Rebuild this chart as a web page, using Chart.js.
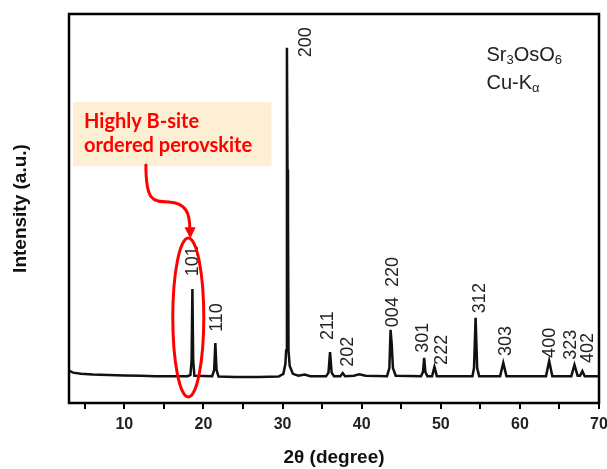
<!DOCTYPE html>
<html>
<head>
<meta charset="utf-8">
<script src="https://cdn.jsdelivr.net/npm/chart.js@4.4.1/dist/chart.umd.min.js"></script>
<style>
  html, body { margin: 0; padding: 0; background: #fff; }
  #wrap { width: 607px; height: 469px; position: relative; }
</style>
</head>
<body>
<div id="wrap"><canvas id="xrd"></canvas></div>
<script>
// XRD pattern, Sr3OsO6 (intensity in arbitrary units 0-100)
const twoTheta = [
  3.0, 3.5, 4.5, 6, 8, 10, 12, 14, 16, 18.0,
  18.35, 18.5, 18.6, 18.7, 18.85, 21.1, 21.35, 21.5, 21.65, 21.9,
  24, 27, 29.5, 30.1, 30.35, 30.45, 30.55, 30.62, 30.68, 30.75,
  30.9, 31.3, 32, 32.8, 33.5, 35.5, 35.8, 36.0, 36.2, 36.5,
  37.3, 37.6, 37.9, 39.0, 39.7, 40.5, 43.2, 43.5, 43.65, 43.8,
  43.95, 44.3, 47.5, 47.75, 47.9, 48.05, 48.3, 48.9, 49.2, 49.5,
  54.0, 54.2, 54.4, 54.6, 54.85, 57.5, 57.9, 58.3, 63.3, 63.7,
  64.1, 66.5, 66.9, 67.3, 67.6, 67.9, 68.2, 70
];
const intensity = [
  8.3, 7.8, 7.5, 7.3, 7.2, 7.1, 7.0, 6.9, 6.9, 6.9,
  7.2, 11, 29.3, 11, 7.0, 6.9, 8.5, 15.4, 8.5, 6.8,
  6.7, 6.7, 6.8, 7.5, 10, 13.5, 91.3, 60, 50, 13.5,
  9.5, 7.5, 7.0, 7.3, 6.9, 6.9, 7.8, 13.1, 7.8, 6.9,
  6.9, 7.7, 6.9, 7.0, 7.4, 7.0, 6.9, 9, 18.8, 15,
  9, 7.0, 6.9, 8, 11.6, 8, 6.9, 6.9, 9.3, 6.9,
  6.9, 9, 21.9, 9, 6.9, 6.9, 10.3, 6.9, 6.9, 10.8,
  6.9, 6.9, 9.8, 7.0, 7.0, 8.2, 6.9, 6.9
];

// Miller index labels and where they sit (2θ, intensity at the start of the text)
const hklText = ['101', '110', '200', '211', '202', '004  220', '301', '222', '312', '303', '400', '323', '402'];
const hklX    = [18.5, 21.56, 32.8, 35.6, 38.1, 43.8, 47.6, 50.0, 54.8, 58.1, 63.7, 66.3, 68.5];
const hklY    = [32.6, 18.3, 88.9, 16.2, 9.3, 19.5, 12.9, 9.8, 23.1, 12.1, 11.6, 11.1, 10.3];

const xTicks = [5, 10, 15, 20, 25, 30, 35, 40, 45, 50, 55, 60, 65, 70];

const annotations = {
  id: 'annotations',
  afterDatasetsDraw(chart) {
    const ctx = chart.ctx;
    const xs = chart.scales.x, ys = chart.scales.y;
    const px = v => xs.getPixelForValue(v);
    const py = v => ys.getPixelForValue(v);
    const a = chart.chartArea;

    ctx.save();
    // peak labels
    ctx.fillStyle = '#222';
    ctx.font = '18px "Liberation Sans", Arial, sans-serif';
    ctx.textAlign = 'left';
    ctx.textBaseline = 'middle';
    hklText.forEach((t, i) => {
      ctx.save();
      ctx.translate(px(hklX[i]), py(hklY[i]));
      ctx.rotate(-Math.PI / 2);
      ctx.fillText(t, 0, 1);
      ctx.restore();
    });

    // sample / radiation text
    const sub = (parts, x, y) => {
      let cx = x;
      parts.forEach(([s, isSub]) => {
        ctx.font = isSub ? '13px "Liberation Sans", Arial, sans-serif' : '20px "Liberation Sans", Arial, sans-serif';
        ctx.fillText(s, cx, isSub ? y + 3 : y);
        cx += ctx.measureText(s).width;
      });
    };
    ctx.textBaseline = 'alphabetic';
    ctx.fillStyle = '#222';
    sub([['Sr', 0], ['3', 1], ['OsO', 0], ['6', 1]], px(55.77), py(87.9));
    sub([['Cu-K', 0], ['\u03b1', 1]], px(55.77), py(80.7));

    // highlight box
    ctx.fillStyle = '#fdefd3';
    ctx.fillRect(px(3.5), py(77.4), px(28.6) - px(3.5), py(60.9) - py(77.4));
    ctx.fillStyle = '#ff0000';
    ctx.font = 'bold 20px Lato, "Open Sans", sans-serif';
    ctx.fillText('Highly B-site', px(4.9), py(70.7));
    ctx.fillText('ordered perovskite', px(4.9), py(64.5), 169);

    // curved arrow
    ctx.strokeStyle = '#ff0000';
    ctx.lineWidth = 3;
    ctx.lineCap = 'round';
    ctx.beginPath();
    ctx.moveTo(px(12.72), py(61.2));
    ctx.bezierCurveTo(px(12.72), py(52.2), px(13.5), py(51.7), px(15.6), py(51.7));
    ctx.bezierCurveTo(px(17.9), py(51.5), px(18.28), py(48.5), px(18.28), py(44.5));
    ctx.stroke();
    ctx.fillStyle = '#ff0000';
    ctx.beginPath();
    ctx.moveTo(px(18.34), py(42.2));
    ctx.lineTo(px(17.6), py(45.2));
    ctx.lineTo(px(19.0), py(45.2));
    ctx.closePath();
    ctx.fill();

    // ellipse around the 101 reflection
    ctx.beginPath();
    ctx.ellipse(px(18.08), py(21.98), px(18.08 + 1.96) - px(18.08), py(21.98) - py(21.98 + 20.44), 0, 0, Math.PI * 2);
    ctx.stroke();

    // frame
    ctx.strokeStyle = '#000';
    ctx.lineWidth = 2.5;
    ctx.strokeRect(a.left, a.top, a.right - a.left, a.bottom - a.top);
    ctx.restore();
  }
};

new Chart(document.getElementById('xrd'), {
  type: 'line',
  data: {
    datasets: [{
      data: twoTheta.map((t, i) => ({ x: t, y: intensity[i] })),
      borderColor: '#111',
      borderWidth: 2.5,
      pointRadius: 0,
      tension: 0,
      fill: false
    }]
  },
  options: {
    responsive: true,
    maintainAspectRatio: false,
    animation: false,
    layout: { padding: { top: 14, right: 8, left: 0, bottom: 0 } },
    plugins: { legend: { display: false }, tooltip: { enabled: false } },
    scales: {
      x: {
        type: 'linear',
        min: 3,
        max: 70,
        afterBuildTicks: s => { s.ticks = xTicks.map(v => ({ value: v })); },
        afterFit: s => { s.height = 66; s.paddingLeft = 0; s.paddingRight = 0; },
        border: { display: false },
        grid: { display: true, drawOnChartArea: false, drawTicks: true, tickLength: 6, color: '#000', lineWidth: 2 },
        ticks: {
          padding: 6,
          color: '#222',
          font: { family: '"Liberation Sans", Arial, sans-serif', size: 16, weight: 'bold' },
          callback: v => (v % 10 === 0 ? v : '')
        },
        title: {
          display: true,
          text: '2\u03b8 (degree)',
          color: '#111',
          padding: { top: 0, bottom: 0 },
          font: { family: '"Liberation Sans", Arial, sans-serif', size: 19, weight: 'bold' }
        }
      },
      y: {
        min: 0,
        max: 100,
        afterFit: s => { s.width = 69; },
        border: { display: false },
        grid: { display: false },
        ticks: { display: false },
        title: {
          display: true,
          text: 'Intensity (a.u.)',
          color: '#111',
          padding: { top: 9, bottom: 0 },
          font: { family: '"Liberation Sans", Arial, sans-serif', size: 19, weight: 'bold' }
        }
      }
    }
  },
  plugins: [annotations]
});
</script>
</body>
</html>
